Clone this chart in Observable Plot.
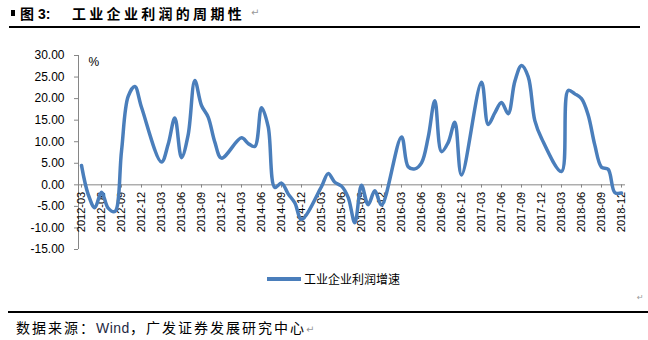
<!DOCTYPE html>
<html>
<head>
<meta charset="utf-8">
<script src="https://cdn.jsdelivr.net/npm/d3@7"></script>
<script src="https://cdn.jsdelivr.net/npm/@observablehq/plot@0.6"></script>
<style>
  html, body { margin: 0; padding: 0; background: #fff; }
  #page { position: relative; width: 648px; height: 340px; overflow: hidden; background: #fff; }
  .abs { position: absolute; white-space: nowrap; }
  .cjk { font-family: "Noto Sans CJK SC", "Liberation Sans", sans-serif; }
  .lat { font-family: "Liberation Sans", Arial, sans-serif; }
  .pm { color: #999; font-size: 10px; font-family: "DejaVu Sans", sans-serif; }
</style>
</head>
<body>
<div id="page">
  <!-- title -->
  <div class="abs" style="left:11px;top:10px;width:4px;height:6px;background:#000;"></div>
  <div class="abs" style="left:20px;top:5px;font-size:14px;line-height:16px;font-weight:bold;">
    <span class="cjk">图</span><span class="lat"> 3:</span>
  </div>
  <div class="abs cjk" style="left:72px;top:5px;font-size:14px;line-height:16px;font-weight:bold;letter-spacing:3.3px;">工业企业利润的周期性</div>
  <div class="abs pm" style="left:251px;top:7px;">↵</div>
  <div class="abs" style="left:9px;top:26px;width:631px;height:2px;background:#000;"></div>

  <!-- chart -->
  <div id="chart" class="abs" style="left:0;top:28px;"></div>

  <!-- legend -->
  <div class="abs" style="left:267px;top:277px;width:34px;height:4px;background:#4a7ebb;"></div>
  <div class="abs cjk" style="left:304px;top:271px;font-size:12px;line-height:16px;color:#000;">工业企业利润增速</div>

  <!-- footer -->
  <div class="abs pm" style="left:637px;top:293px;font-size:8px;">↵</div>
  <div class="abs" style="left:8px;top:311px;width:640px;height:2px;background:#000;"></div>
  <div class="abs" style="left:16px;top:319px;font-size:14px;line-height:16px;letter-spacing:2px;color:#000;">
    <span class="cjk">数据来源：</span><span class="lat" style="color:#1f2a44;letter-spacing:0.5px;">Wind</span><span class="cjk">，广发证券发展研究中心</span><span class="pm" style="letter-spacing:0;">↵</span>
  </div>
</div>

<script>
// ---- data ----
const years = ["2012", "2013", "2014", "2015", "2016", "2017", "2018"];
const monthNames = ["03", "04", "05", "06", "07", "08", "09", "10", "11", "12"];
const tickMonthNames = ["03", "06", "09", "12"];

const v2012 = [4.5, -2.2, -5.3, -1.7, -5.4, -6.2, 7.8, 20.5, 22.8, 18.0];
const v2013 = [5.3, 9.4, 15.5, 6.3, 11.6, 24.2, 18.4, 15.7, 9.9, 6.2];
const v2014 = [10.9, 9.6, 8.9, 17.9, 13.5, -0.6, 0.4, -2.1, -4.2, -8.0];
const v2015 = [-0.4, 2.6, 0.6, -0.3, -2.9, -8.8, -0.1, -4.6, -1.4, -4.7];
const v2016 = [11.1, 4.2, 3.7, 5.1, 11.0, 19.5, 7.7, 9.8, 14.5, 2.3];
const v2017 = [23.8, 14.0, 16.7, 19.1, 16.5, 24.0, 27.7, 25.1, 14.9, 10.8];
const v2018 = [3.1, 21.9, 21.1, 20.0, 16.2, 9.2, 4.1, 3.6, -1.8, -1.9];
const seriesByYear = [v2012, v2013, v2014, v2015, v2016, v2017, v2018];

const seriesName = "工业企业利润增速";
const yTicks = [-15, -10, -5, 0, 5, 10, 15, 20, 25, 30];

// ---- build table ----
const monthIndex = (label) => {
  const [y, m] = label.split("-").map(Number);
  return (y - 2012) * 12 + (m - 3);
};
const data = [];
years.forEach((y, i) => {
  monthNames.forEach((m, j) => {
    const label = `${y}-${m}`;
    data.push({ label, t: monthIndex(label), value: seriesByYear[i][j] });
  });
});
const tickLabels = [];
years.forEach(y => tickMonthNames.forEach(m => tickLabels.push(`${y}-${m}`)));

const xDomain = [-0.45, 81.6];
const axisGray = "#868686";
const fmt = d => d.toFixed(2);

const chart = Plot.plot({
  width: 648,
  height: 234,
  marginTop: 27,
  marginBottom: 13,
  marginLeft: 78,
  marginRight: 23,
  style: { fontFamily: "'Liberation Sans', Arial, sans-serif", fontSize: "12px", color: "#000", background: "transparent", overflow: "visible" },
  x: { domain: xDomain, axis: null },
  y: { domain: [-15, 30], axis: null },
  marks: [
    Plot.axisY({ ticks: yTicks, tickFormat: fmt, tickSize: 4, tickPadding: 10, stroke: axisGray, fill: "#000", fontSize: 12, label: null }),
    Plot.ruleX([xDomain[0]], { y1: -15, y2: 30, stroke: axisGray }),
    Plot.ruleY([0], { x1: xDomain[0], x2: xDomain[1], stroke: axisGray }),
    Plot.ruleX(tickLabels, { x: d => monthIndex(d), y1: 0, y2: -0.75, stroke: axisGray }),
    Plot.text(tickLabels, { x: d => monthIndex(d), y: 0, text: d => d, rotate: -90, textAnchor: "end", lineAnchor: "middle", dy: 7, fontSize: 11, fill: "#000" }),
    Plot.line(data, { x: "t", y: "value", stroke: "#4a7ebb", strokeWidth: 3.5, curve: "catmull-rom", strokeLinecap: "round", strokeLinejoin: "round" }),
    Plot.text(["%"], { frameAnchor: "top-left", dx: 10, dy: 7, lineAnchor: "middle", fontSize: 12, fill: "#000" })
  ]
});
document.getElementById("chart").appendChild(chart);
</script>
</body>
</html>
